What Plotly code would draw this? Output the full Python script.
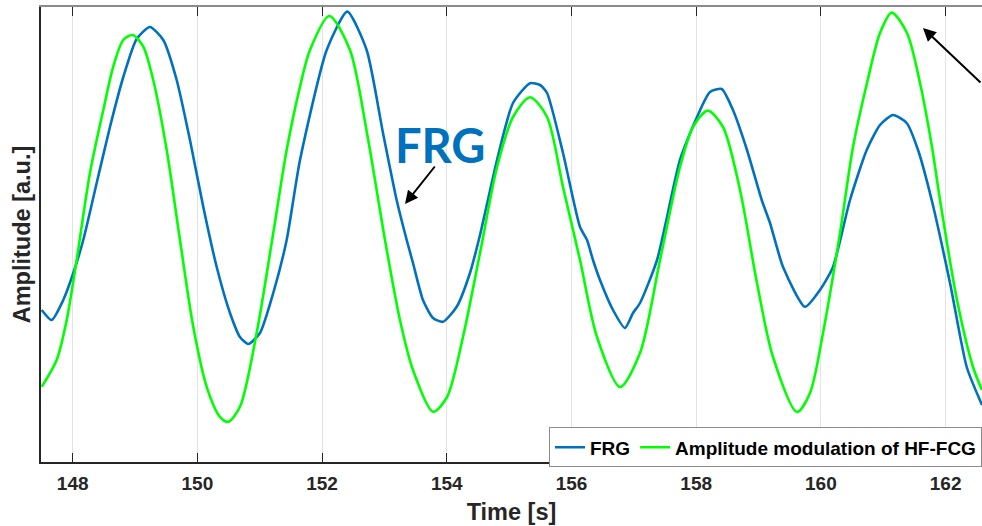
import plotly.graph_objects as go

# ---- data (time in s, amplitude in a.u.) ----
frg_t = [147.503, 147.663, 147.849, 148.010, 148.170, 148.385, 148.598, 148.812, 149.026, 149.240,
         149.453, 149.668, 149.881, 150.095, 150.310, 150.523, 150.683, 150.816, 151.004, 151.217,
         151.432, 151.646, 152.074, 152.404, 152.715, 152.977, 153.196, 153.357, 153.458, 153.618,
         153.779, 153.939, 154.159, 154.372, 154.533, 154.806, 155.062, 155.335, 155.496, 155.608,
         155.864, 156.137, 156.249, 156.345, 156.457, 156.666, 156.858, 156.987, 157.099, 157.372,
         157.740, 158.013, 158.221, 158.409, 158.590, 158.815, 159.051, 159.184, 159.393, 159.745,
         159.986, 160.194, 160.467, 160.735, 160.948, 161.156, 161.376, 161.558, 161.777, 162.071,
         162.339, 162.584]
frg_a = [-0.375, -0.425, -0.325, -0.19, -0.025, 0.26, 0.54, 0.79, 0.98, 1.04,
         0.975, 0.775, 0.475, 0.14, -0.16, -0.39, -0.51, -0.545, -0.49, -0.29,
         -0.025, 0.375, 0.925, 1.117, 0.925, 0.51, 0.175, -0.025, -0.14, -0.325,
         -0.415, -0.434, -0.359, -0.19, 0.0, 0.375, 0.66, 0.759, 0.75, 0.71,
         0.41, 0.04, -0.025, -0.125, -0.225, -0.375, -0.465, -0.39, -0.34, -0.125,
         0.375, 0.59, 0.715, 0.73, 0.625, 0.425, 0.175, 0.06, -0.16, -0.359,
         -0.275, -0.16, 0.175, 0.425, 0.55, 0.6, 0.56, 0.425, 0.175, -0.24,
         -0.66, -0.85]

am_t = [147.503, 147.743, 147.904, 148.064, 148.277, 148.491, 148.651, 148.812, 148.962, 149.132,
        149.292, 149.508, 149.721, 149.934, 150.149, 150.362, 150.496, 150.683, 150.951, 151.217,
        151.432, 151.646, 151.806, 152.115, 152.447, 152.720, 153.009, 153.249, 153.458, 153.779,
        154.004, 154.260, 154.533, 154.806, 155.062, 155.335, 155.608, 155.864, 156.137, 156.409,
        156.778, 157.099, 157.420, 157.740, 157.949, 158.184, 158.430, 158.703, 158.975, 159.232,
        159.617, 159.825, 160.034, 160.307, 160.515, 160.740, 160.948, 161.136, 161.381, 161.590,
        161.782, 161.911, 162.183, 162.440, 162.584]
am_a = [-0.759, -0.625, -0.425, -0.125, 0.31, 0.625, 0.842, 0.975, 1.0, 0.942,
        0.775, 0.425, -0.025, -0.459, -0.759, -0.909, -0.934, -0.859, -0.49, 0.01,
        0.425, 0.742, 0.925, 1.095, 0.925, 0.51, -0.025, -0.425, -0.675, -0.884,
        -0.81, -0.51, -0.09, 0.34, 0.59, 0.689, 0.59, 0.24, -0.125, -0.51,
        -0.76, -0.59, -0.125, 0.34, 0.54, 0.622, 0.54, 0.225, -0.24, -0.61,
        -0.885, -0.79, -0.49, 0.01, 0.44, 0.76, 1.01, 1.112, 1.01, 0.76,
        0.44, 0.175, -0.325, -0.66, -0.775]

x_ticks = [148, 150, 152, 154, 156, 158, 160, 162]
x_range = [147.492, 162.584]
y_range = [-1.135, 1.14]

BLUE = "#0072BD"
GREEN = "#00FF00"
AX = "#262626"

fig = go.Figure()
fig.add_trace(go.Scatter(x=frg_t, y=frg_a, mode="lines", name="FRG",
                         line=dict(color=BLUE, width=2.6, shape="spline", smoothing=0.6)))
fig.add_trace(go.Scatter(x=am_t, y=am_a, mode="lines", name="Amplitude modulation of HF-FCG",
                         line=dict(color=GREEN, width=2.6, shape="spline", smoothing=0.8)))
# invisible trace to activate top axis
fig.add_trace(go.Scatter(x=x_range, y=[None, None], xaxis="x2", showlegend=False, hoverinfo="skip"))

fig.update_layout(
    width=982, height=526,
    margin=dict(l=41, r=0, t=7, b=64, autoexpand=False),
    paper_bgcolor="white", plot_bgcolor="white",
    font=dict(family="Liberation Sans, Arial, sans-serif", color=AX),
    xaxis=dict(range=x_range, tickvals=x_ticks, ticktext=[str(v) for v in x_ticks],
               automargin=False,
               showgrid=True, gridcolor="#e3e3e3", gridwidth=1,
               showline=True, linecolor=AX, linewidth=1.5,
               ticks="inside", ticklen=9, tickcolor=AX, tickwidth=1.2,
               tickfont=dict(size=19, weight="bold", color=AX),
               ticklabelstandoff=3,
               zeroline=False,
               title=dict(text="Time [s]", font=dict(size=23.5, weight="bold", color=AX), standoff=11)),
    xaxis2=dict(range=x_range, tickvals=x_ticks, overlaying="x", side="top",
                automargin=False,
                showgrid=False, showline=True, linecolor="#8c8c8c", linewidth=1.5,
                ticks="inside", ticklen=9, tickcolor=AX, tickwidth=1.2,
                showticklabels=False, zeroline=False),
    yaxis=dict(range=y_range, showticklabels=False, ticks="", showgrid=False,
               automargin=False,
               zeroline=False, showline=True, linecolor=AX, linewidth=1.5,
               title=dict(text="Amplitude [a.u.]", font=dict(size=23.5, weight="bold", color=AX), standoff=2)),
    legend=dict(orientation="h", x=1, xanchor="right", y=-0.012, yanchor="bottom",
                bgcolor="white", bordercolor="#8c8c8c", borderwidth=1,
                font=dict(size=19, weight="bold", color="black"), itemwidth=30,
                tracegroupgap=0),
    showlegend=True,
)

fig.add_annotation(x=153.89, y=0.45, text="FRG", showarrow=False,
                   font=dict(size=47, color=BLUE, family="Lato, sans-serif", weight="bold"))
fig.add_annotation(x=153.33, y=0.155, ax=31, ay=-39, text="", showarrow=True,
                   arrowhead=2, arrowsize=1.3, arrowwidth=2, arrowcolor="black")
fig.add_annotation(x=161.637, y=1.035, ax=64, ay=56, text="", showarrow=True,
                   arrowhead=2, arrowsize=1.3, arrowwidth=2, arrowcolor="black")

fig.write_html("out.html", config={"displayModeBar": False},
               post_script="document.body.style.margin='0';")
